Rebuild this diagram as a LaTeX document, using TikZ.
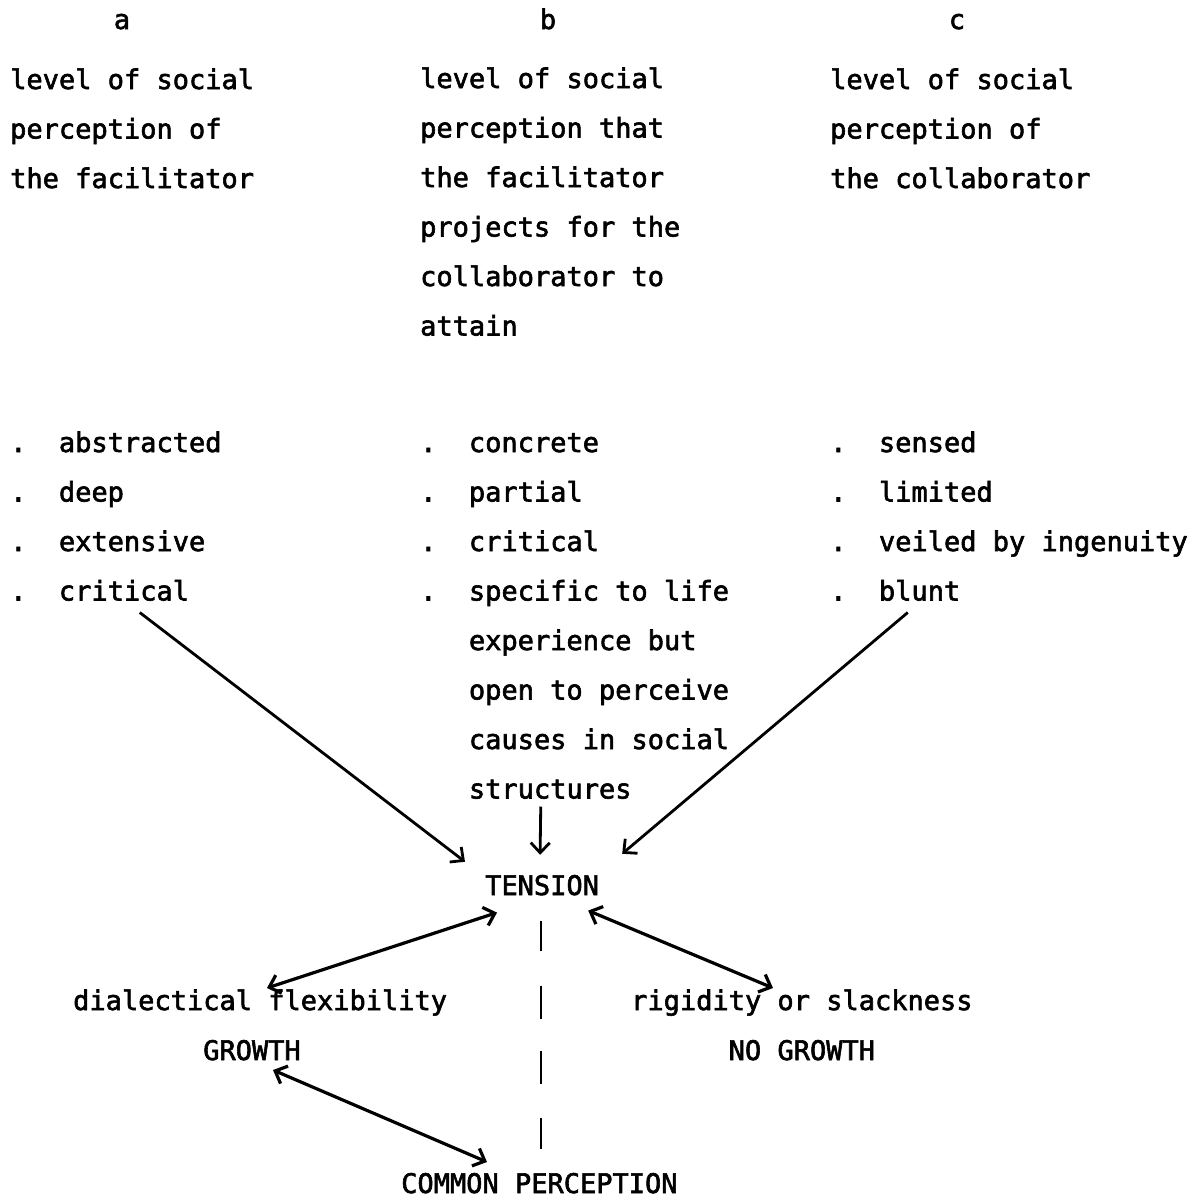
\documentclass[tikz,border=0pt]{standalone}
\usepackage{fontspec}
\setmainfont{DejaVu Sans Mono}
\newfontfamily\twfont{DejaVu Sans Mono}[FakeBold=2.2]
\usetikzlibrary{arrows.meta,calc}
\begin{document}
\begin{tikzpicture}[x=1pt,y=-1pt,
  txt/.style={anchor=base west,inner sep=0pt,font=\twfont\fontsize{27}{49.5}\selectfont},
  ctr/.style={anchor=base,inner sep=0pt,font=\twfont\fontsize{27}{49.5}\selectfont},
  arr/.style={line width=2.8pt,-{Straight Barb[length=10pt,width=19pt]}},
  darr/.style={line width=3.2pt,{Straight Barb[length=10pt,width=19pt]}-{Straight Barb[length=10pt,width=19pt]}},
  sep/.style={line width=2pt,dash pattern=on 30pt off 35pt on 33pt off 32pt on 33pt off 34pt on 31pt off 100pt}]
\useasboundingbox (0,0) rectangle (1202,1200);
% column headers
\node[ctr] (ha) at (122,29) {a};
\node[ctr] (hb) at (548,29) {b};
\node[ctr] (hc) at (957,29) {c};
% column titles
\foreach \t [count=\i] in {level of social,perception of,the facilitator}
  \node[txt] (a\i) at (10,{89+49.5*(\i-1)}) {\t};
\foreach \t [count=\i] in {level of social,perception that,the facilitator,projects for the,collaborator to,attain}
  \node[txt] (b\i) at (420,{88+49.5*(\i-1)}) {\t};
\foreach \t [count=\i] in {level of social,perception of,the collaborator}
  \node[txt] (c\i) at (830,{89+49.5*(\i-1)}) {\t};
% bullet lists
\foreach \t [count=\i] in {abstracted,deep,extensive,critical}{
  \node[txt] (da\i) at (10,{452+49.5*(\i-1)}) {.};
  \node[txt] (ta\i) at (58.75,{452+49.5*(\i-1)}) {\t};}
\foreach \i in {1,...,4}
  \node[txt] (db\i) at (420,{452+49.5*(\i-1)}) {.};
\foreach \t [count=\i] in {concrete,partial,critical,specific to life,experience but,open to perceive,causes in social,structures}
  \node[txt] (tb\i) at (468.75,{452+49.5*(\i-1)}) {\t};
\foreach \t [count=\i] in {sensed,limited,veiled by ingenuity,blunt}{
  \node[txt] (dc\i) at (830,{452+49.5*(\i-1)}) {.};
  \node[txt] (tc\i) at (878.75,{452+49.5*(\i-1)}) {\t};}
% lower part
\node[txt] (tension) at (485,895) {TENSION};
\node[txt] (dial) at (73,1010) {dialectical flexibility};
\node[txt] (growth) at (203,1060) {GROWTH};
\node[txt] (rigid) at (631,1010) {rigidity or slackness};
\node[txt] (nogrowth) at (728.5,1060) {NO GROWTH};
\node[txt] (common) at (401,1193) {COMMON PERCEPTION};
% divider
\draw[sep] ($(tension.south)+(-1,25)$) -- ($(tension.south)+(-1,253)$);
% arrows into TENSION
\draw[arr] ($(ta4.base west)+(81,12)$) -- ($(tension.north west)+(-20,-13)$);
\draw[arr] ($(tb8.base west)+(72,8)$) -- ($(tension.north)+(-2,-20)$);
\draw[arr] ($(tc4.base west)+(29,12)$) -- ($(tension.north east)+(23,-21)$);
% double arrows
\draw[darr] ($(dial.base west)+(194,-22)$) -- ($(tension.south west)+(12,17)$);
\draw[darr] ($(tension.south east)+(-11,15)$) -- ($(rigid.base west)+(142,-22)$);
\draw[darr] ($(growth.base west)+(70,10)$) -- ($(common.base west)+(86,-31)$);
\end{tikzpicture}
\end{document}
